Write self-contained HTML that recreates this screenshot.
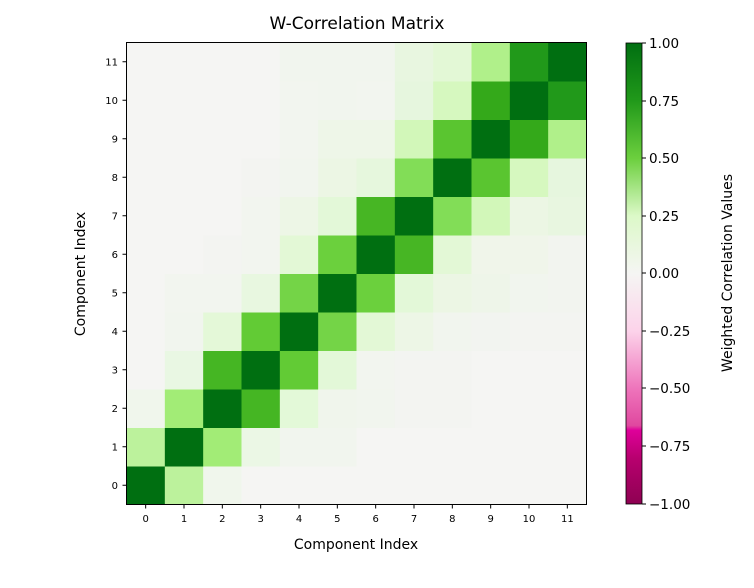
<!DOCTYPE html>
<html><head><meta charset="utf-8"><style>
body{margin:0;background:#fff;width:754px;height:583px;overflow:hidden;font-family:"Liberation Sans","DejaVu Sans",sans-serif}
</style></head><body>
<svg width="754" height="583" xmlns="http://www.w3.org/2000/svg" font-family="DejaVu Sans, Liberation Sans, sans-serif">
<defs>
<linearGradient id="cb" x1="0" y1="1" x2="0" y2="0">
<stop offset="0" stop-color="#8e0152"/>
<stop offset="0.1" stop-color="#b8006f"/>
<stop offset="0.16" stop-color="#df009a"/>
<stop offset="0.17" stop-color="#e0489f"/>
<stop offset="0.25" stop-color="#ee74bb"/>
<stop offset="0.375" stop-color="#fcd3ea"/>
<stop offset="0.5" stop-color="#f5f5f3"/>
<stop offset="0.625" stop-color="#dcf9c8"/>
<stop offset="0.75" stop-color="#6ccf3e"/>
<stop offset="0.875" stop-color="#21991a"/>
<stop offset="1" stop-color="#006f11"/>
</linearGradient>
</defs>
<text x="357" y="29" font-size="17" text-anchor="middle" fill="#000">W-Correlation Matrix</text>
<g id="cells"></g>
<rect x="126.5" y="42.5" width="460" height="462" fill="none" stroke="#000" stroke-width="1"/>
<g id="ticks" font-size="10" fill="#000"></g>
<text x="356" y="549" font-size="14" text-anchor="middle">Component Index</text>
<text transform="translate(85,274) rotate(-90)" font-size="14" text-anchor="middle">Component Index</text>
<rect x="626" y="43" width="16" height="461" fill="url(#cb)" stroke="#000" stroke-width="0.8"/>
<g font-size="13.5" fill="#000">
<text x="649" y="48">1.00</text><text x="649" y="106">0.75</text><text x="649" y="163">0.50</text><text x="649" y="221">0.25</text><text x="649" y="278">0.00</text><text x="649" y="336">−0.25</text><text x="649" y="393">−0.50</text><text x="649" y="451">−0.75</text><text x="649" y="509">−1.00</text>
</g>
<g stroke="#000"><line x1="642" x2="646" y1="43" y2="43"/><line x1="642" x2="646" y1="101" y2="101"/><line x1="642" x2="646" y1="158" y2="158"/><line x1="642" x2="646" y1="216" y2="216"/><line x1="642" x2="646" y1="273" y2="273"/><line x1="642" x2="646" y1="331" y2="331"/><line x1="642" x2="646" y1="388" y2="388"/><line x1="642" x2="646" y1="446" y2="446"/><line x1="642" x2="646" y1="504" y2="504"/></g>
<text transform="translate(732,273) rotate(-90)" font-size="14" text-anchor="middle">Weighted Correlation Values</text>
</svg>
<script>
const W='#f5f5f3',D='#006f11';
const rows={
11:[W,W,W,W,'#f1f5ee','#f1f5ee','#f1f5ee','#e8f6e0','#e3f8d6','#b0f08a','#21991a',D],
10:[W,W,W,W,'#f2f5ef','#f1f5ee','#f2f5ef','#e6f6de','#d6f8bf','#34a91a',D,'#21991a'],
9:[W,W,W,W,'#f2f5ef','#eef6e8','#eef6e8','#d2f7b9','#5ac530',D,'#34a91a','#b0f08a'],
8:[W,W,W,'#f3f4f1','#f1f5ee','#ecf6e4','#e6f7dd','#82dd57',D,'#5ac530','#d6f8bf','#e6f6de'],
7:[W,W,W,'#f2f5ef','#edf6e6','#e3f8d8','#47b624',D,'#82dd57','#d2f7b9','#ecf6e4','#e8f6e0'],
6:[W,W,'#f3f4f1','#f2f5ef','#e3f8d6','#6bd03d',D,'#47b624','#e3f8d6','#f0f5ea','#f0f5ea','#f2f4ef'],
5:[W,'#f2f5ef','#f2f5ef','#e8f7e0','#74d447',D,'#6bd03d','#e3f8d8','#ecf6e4','#eef5e9','#f1f5ee','#f2f4ef'],
4:[W,'#f1f5ee','#e4f8d8','#62cb35',D,'#74d447','#e3f8d6','#edf6e6','#f1f5ee','#f2f4f0','#f3f4f1','#f3f4f1'],
3:[W,'#e9f7e3','#45b623',D,'#62cb35','#e3f8d8','#f2f5ef','#f3f4f1','#f3f4f1',W,W,W],
2:['#f0f6ec','#a2ec76',D,'#45b623','#e3f9d8','#f0f5ec','#f1f5ee','#f3f4f1','#f3f4f1',W,W,W],
1:['#bcf29c',D,'#a2ec76','#ebf7e5','#f1f5ee','#f1f5ee',W,W,W,W,W,W],
0:[D,'#bcf29c','#f0f6ec',W,W,W,W,W,W,W,W,W]};
const NS='http://www.w3.org/2000/svg';
const g=document.getElementById('cells'),t=document.getElementById('ticks');
const x0=126.5,y0=42.5,cw=460/12,ch=462/12;
for(let r=0;r<12;r++)for(let c=0;c<12;c++){const e=document.createElementNS(NS,'rect');
e.setAttribute('x',x0+c*cw);e.setAttribute('y',y0+(11-r)*ch);e.setAttribute('width',cw+0.5);e.setAttribute('height',ch+0.5);e.setAttribute('fill',rows[r][c]);g.appendChild(e);}
for(let i=0;i<12;i++){
let cx=x0+(i+0.5)*cw;let l=document.createElementNS(NS,'line');l.setAttribute('x1',cx);l.setAttribute('x2',cx);l.setAttribute('y1',504.5);l.setAttribute('y2',508.5);l.setAttribute('stroke','#000');t.appendChild(l);
let tx=document.createElementNS(NS,'text');tx.setAttribute('x',cx);tx.setAttribute('y',522);tx.setAttribute('text-anchor','middle');tx.textContent=i;t.appendChild(tx);
let cy=y0+(11-i+0.5)*ch;l=document.createElementNS(NS,'line');l.setAttribute('x1',122.5);l.setAttribute('x2',126.5);l.setAttribute('y1',cy);l.setAttribute('y2',cy);l.setAttribute('stroke','#000');t.appendChild(l);
tx=document.createElementNS(NS,'text');tx.setAttribute('x',118);tx.setAttribute('y',cy+3.5);tx.setAttribute('text-anchor','end');tx.textContent=i;t.appendChild(tx);}
</script>
</body></html>
